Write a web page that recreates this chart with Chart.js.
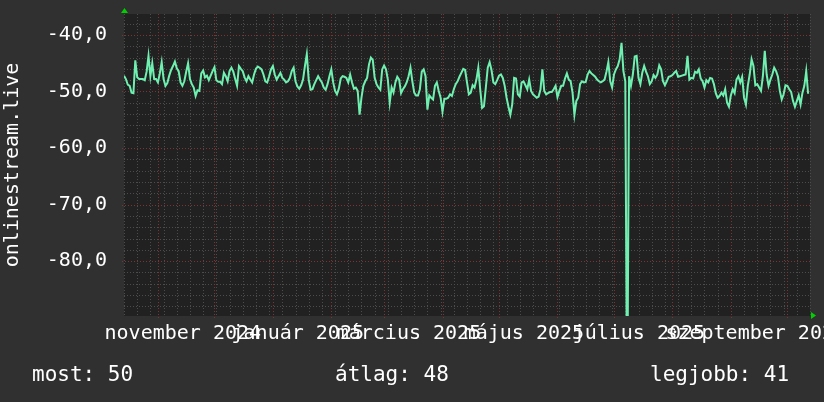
<!DOCTYPE html>
<html>
<head>
<meta charset="utf-8">
<script src="https://cdn.jsdelivr.net/npm/chart.js@4/dist/chart.umd.min.js"></script>
<style>
html, body { margin: 0; padding: 0; background: #303030; }
canvas { display: block; }
</style>
</head>
<body>
<canvas id="grafikon" width="824" height="402"></canvas>
<script>
// napi jelszint (dBm), 2024-10-14-tol
var jelszint = [
    -47.2, -47.8, -48.8, -49.0, -50.2, -50.3, -44.5, -47.5, -47.8, -47.8,
    -47.8, -48.0, -46.5, -43.7, -47.3, -45.0, -47.8, -47.8, -48.4, -46.8,
    -44.8, -47.8, -49.0, -48.5, -47.2, -46.2, -45.5, -44.7, -45.9, -46.4,
    -48.4, -49.0, -48.2, -46.5, -45.0, -47.8, -48.7, -49.3, -50.8, -49.8,
    -49.9, -46.8, -46.3, -47.5, -47.2, -48.0, -47.2, -46.4, -45.7, -48.0,
    -48.3, -48.3, -48.7, -46.7, -47.3, -48.2, -46.4, -45.8, -46.5, -47.8,
    -49.0, -45.5, -46.0, -46.4, -47.5, -48.2, -47.3, -47.9, -48.4, -47.0,
    -46.0, -45.6, -45.8,
    -46.1, -47.0, -48.2, -48.4, -47.3, -46.1, -45.5, -47.0, -47.9, -47.3,
    -46.7, -47.6, -47.9, -48.4, -48.2, -47.6, -46.4, -45.8, -48.2, -49.1,
    -49.5, -48.9, -47.9, -45.5, -43.4, -47.9, -49.7, -49.6, -48.7, -48.0,
    -47.3, -47.9, -48.4, -49.3, -49.7, -48.7, -47.3, -46.1, -48.4, -49.9,
    -50.5, -49.5, -47.7, -47.3, -47.4, -47.6, -48.4, -47.0, -48.4, -49.5,
    -49.3, -49.9, -54.1, -51.1, -49.0, -48.2, -47.6, -45.2, -44.0, -44.4,
    -47.6, -48.7, -49.3, -49.7, -46.1, -45.4, -46.1, -47.9, -52.0, -49.3,
    -50.2, -48.4, -47.4,
    -47.9, -50.3, -49.6, -49.1, -48.4, -47.3, -45.8, -48.2, -50.2, -50.7,
    -50.7, -49.6, -46.5, -46.1, -47.3, -53.2, -50.7, -51.1, -51.4, -49.0,
    -48.4, -49.9, -51.1, -53.6, -51.3, -51.3, -51.1, -50.5, -50.8, -49.6,
    -48.7, -48.2, -47.4, -46.7, -46.0, -46.2, -48.4, -50.5, -50.2, -48.9,
    -49.3, -47.9, -45.8, -49.6, -52.9, -52.6, -49.3, -45.8, -44.8, -46.2,
    -48.4, -48.7, -48.0, -47.2, -47.0, -47.6, -49.0, -51.1, -52.7, -54.1,
    -52.3, -47.6, -47.7, -50.5, -50.9, -48.4, -48.2, -48.9, -49.6, -47.9,
    -49.9, -50.5, -50.8,
    -51.1, -50.9, -49.6, -46.1, -49.9, -50.5, -50.3, -50.1, -50.1, -49.6,
    -49.0, -51.0, -49.9, -49.0, -49.0, -47.7, -46.8, -47.9, -48.2, -50.2,
    -54.1, -51.7, -51.1, -48.7, -48.2, -48.4, -48.3, -47.0, -46.4, -46.8,
    -47.1, -47.4, -47.9, -48.2, -48.4, -48.2, -47.9, -46.5, -44.8, -48.2,
    -49.3, -47.0, -46.1, -45.5, -44.3, -41.4, -46.4, -48.2, -110.0, -47.3,
    -49.0, -47.0, -43.8, -43.7, -47.6, -48.7, -46.7, -45.5, -46.5, -47.3,
    -48.7, -48.2, -47.1, -47.6, -47.0, -45.4, -46.1, -48.2, -48.9, -48.2,
    -47.4, -47.3, -47.1,
    -46.7, -46.4, -47.4, -47.3, -47.2, -47.1, -47.0, -43.7, -47.9, -47.6,
    -47.7, -46.5, -46.7, -46.1, -47.7, -48.2, -49.3, -48.0, -48.4, -47.6,
    -47.7, -48.7, -50.3, -51.1, -50.8, -50.2, -50.7, -49.6, -52.0, -52.7,
    -50.7, -49.6, -50.3, -47.9, -47.3, -48.4, -47.4, -51.1, -52.3, -49.0,
    -47.0, -44.3, -45.5, -48.9, -48.7, -49.3, -49.9, -47.3, -42.8, -47.0,
    -49.0, -47.9, -47.0, -45.8, -46.4, -47.4, -49.9, -51.4, -50.5, -48.9,
    -49.0, -49.6, -50.1, -51.7, -52.7, -51.7, -50.7, -52.3, -50.2, -49.0,
    -46.4, -50.4
];

// honapkezdetek napban (2024-10-14 = 0. nap)
var honapKezdetek = [18, 48, 79, 110, 138, 169, 199, 230, 260, 291, 322, 352];
var cimkeNapok = [18, 79, 138, 199, 260, 322];
var cimkek = ['november 2024', 'január 2025', 'március 2025', 'május 2025', 'július 2025', 'szeptember 2025'];
var yOsztasok = [-40, -50, -60, -70, -80];
var osszesitoNevek = ['most', 'átlag', 'legjobb'];
var osszesitoErtekek = [50, 48, 41];

var BETU = '20px "DejaVu Sans Mono"';
var BETU_LENT = '21px "DejaVu Sans Mono"';

var pontok = jelszint.map(function (v, i) { return { x: i, y: v }; });

var vonal = function (ctx, x1, y1, x2, y2) {
    ctx.beginPath();
    ctx.moveTo(x1, y1);
    ctx.lineTo(x2, y2);
    ctx.stroke();
};

var racsPlugin = {
    id: 'racs',
    beforeDraw: function (chart) {
        var ctx = chart.ctx, a = chart.chartArea;
        ctx.save();
        ctx.fillStyle = '#303030';
        ctx.fillRect(0, 0, chart.width, chart.height);
        ctx.fillStyle = '#212121';
        ctx.fillRect(a.left, a.top, a.right - a.left, a.bottom - a.top);
        ctx.restore();
    },
    beforeDatasetsDraw: function (chart) {
        var ctx = chart.ctx, a = chart.chartArea;
        var sx = chart.scales.x, sy = chart.scales.y;
        ctx.save();
        ctx.lineWidth = 1;
        ctx.setLineDash([1, 2]);

        // heti es 2 dB-es segedracs
        ctx.strokeStyle = '#4c4c4c';
        for (var n = 0; n <= sx.max; n += 7) {
            var px = Math.round(sx.getPixelForValue(n)) + 0.5;
            vonal(ctx, px, a.top, px, a.bottom);
        }
        for (var v = -88; v <= sy.max; v += 2) {
            if (v % 10 === 0) continue;
            var py = Math.round(sy.getPixelForValue(v)) + 0.5;
            vonal(ctx, a.left, py, a.right, py);
        }

        // foracs
        ctx.strokeStyle = '#7a3434';
        honapKezdetek.forEach(function (nap) {
            var px = Math.round(sx.getPixelForValue(nap)) + 0.5;
            vonal(ctx, px, a.top, px, a.bottom + 3);
        });
        yOsztasok.forEach(function (ertek) {
            var py = Math.round(sy.getPixelForValue(ertek)) + 0.5;
            vonal(ctx, a.left - 2, py, a.right, py);
        });
        ctx.restore();
    },
    afterDraw: function (chart) {
        var ctx = chart.ctx, a = chart.chartArea;
        var sx = chart.scales.x;
        ctx.save();
        ctx.fillStyle = '#ffffff';
        ctx.font = BETU;
        ctx.textAlign = 'center';
        ctx.textBaseline = 'alphabetic';
        cimkeNapok.forEach(function (nap, i) {
            ctx.fillText(cimkek[i], sx.getPixelForValue(nap + 13.2), a.bottom + 23);
        });

        ctx.font = BETU_LENT;
        ctx.textAlign = 'left';
        var balok = [32, 335, 650];
        osszesitoNevek.forEach(function (nev, i) {
            ctx.fillText(nev + ': ' + osszesitoErtekek[i], balok[i], 381);
        });

        // tengely nyilak
        ctx.fillStyle = '#00d000';
        ctx.beginPath();
        ctx.moveTo(a.left - 3, a.top - 1);
        ctx.lineTo(a.left + 4, a.top - 1);
        ctx.lineTo(a.left + 0.5, a.top - 6);
        ctx.closePath();
        ctx.fill();
        ctx.beginPath();
        ctx.moveTo(a.right + 1, a.bottom - 4);
        ctx.lineTo(a.right + 1, a.bottom + 3);
        ctx.lineTo(a.right + 6, a.bottom - 0.5);
        ctx.closePath();
        ctx.fill();
        ctx.restore();
    }
};

var ctx = document.getElementById('grafikon').getContext('2d');
var grafikon = new Chart(ctx, {
    type: 'line',
    data: {
        datasets: [{
            data: pontok,
            borderColor: '#70f0b0',
            borderWidth: 2,
            pointRadius: 0,
            tension: 0,
            fill: false
        }]
    },
    options: {
        responsive: false,
        animation: false,
        devicePixelRatio: 1,
        layout: { padding: { top: 14, right: 14, bottom: 0, left: 0 } },
        plugins: { legend: { display: false }, tooltip: { enabled: false } },
        scales: {
            x: {
                type: 'linear',
                min: 0,
                max: 364,
                grid: { display: false, drawTicks: false },
                border: { display: false },
                ticks: { display: false },
                afterFit: function (s) {
                    s.height = 86;
                    s.paddingLeft = 0;
                    s.paddingRight = 0;
                }
            },
            y: {
                min: -89.7,
                max: -36.3,
                grid: { display: false, drawTicks: false },
                border: { display: false },
                afterBuildTicks: function (s) {
                    s.ticks = yOsztasok.map(function (v) { return { value: v }; });
                },
                ticks: {
                    color: '#ffffff',
                    font: { family: 'DejaVu Sans Mono', size: 20 },
                    padding: 17,
                    callback: function (v) { return v.toFixed(1).replace('.', ','); }
                },
                title: {
                    display: true,
                    text: 'onlinestream.live',
                    color: '#ffffff',
                    font: { family: 'DejaVu Sans Mono', size: 20 },
                    padding: { top: 1, bottom: 0 }
                },
                afterFit: function (s) {
                    s.width = 124;
                    s.paddingTop = 0;
                    s.paddingBottom = 0;
                }
            }
        }
    },
    plugins: [racsPlugin]
});
</script>
</body>
</html>
